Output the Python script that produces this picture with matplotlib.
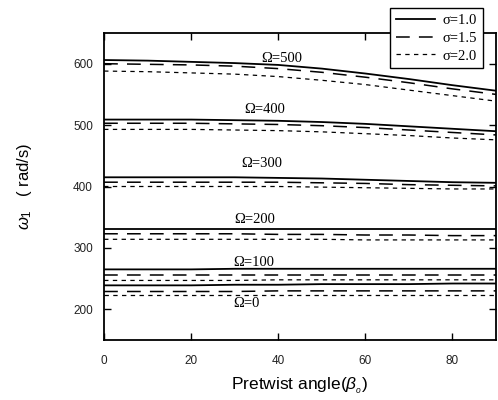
import matplotlib
matplotlib.use("Agg")
from matplotlib import pyplot as plt

plt.rcParams['mathtext.fontset'] = 'custom'
plt.rcParams['mathtext.rm'] = 'Liberation Sans'
plt.rcParams['mathtext.it'] = 'Liberation Sans:italic'

# pretwist angle (deg)
beta = [0, 10, 20, 30, 40, 50, 60, 70, 80, 90]
omegas = [500, 400, 300, 200, 100, 0]
sigma_labels = ["σ=1.0", "σ=1.5", "σ=2.0"]

# first natural frequency (rad/s), one row per Omega
sigma10 = [
    [606, 605, 603, 601, 598, 592, 584, 575, 565, 556],
    [509, 509, 509, 508, 507, 505, 502, 498, 494, 490],
    [415, 415, 415, 415, 414, 413, 411, 409, 407, 406],
    [330, 330, 330, 330, 330, 330, 330, 330, 330, 330],
    [265, 265, 265, 266, 266, 266, 266, 266, 266, 266],
    [239, 239, 239, 240, 240, 241, 241, 241, 242, 242],
]
sigma15 = [
    [600, 599, 598, 596, 592, 586, 578, 569, 559, 550],
    [503, 503, 503, 502, 501, 499, 496, 492, 488, 484],
    [407, 407, 407, 407, 407, 406, 405, 403, 402, 401],
    [323, 323, 323, 323, 322, 322, 321, 321, 320, 320],
    [256, 256, 256, 256, 256, 256, 256, 256, 256, 256],
    [229, 229, 229, 229, 230, 230, 230, 230, 230, 230],
]
sigma20 = [
    [588, 587, 585, 583, 579, 573, 566, 557, 548, 539],
    [493, 493, 493, 492, 491, 489, 486, 483, 479, 476],
    [400, 400, 400, 400, 400, 399, 398, 397, 396, 396],
    [314, 314, 314, 314, 314, 314, 313, 313, 313, 313],
    [247, 247, 247, 247, 248, 248, 248, 248, 248, 248],
    [224, 224, 224, 224, 224, 224, 224, 224, 224, 224],
]

# label positions for each Omega curve group
label_x = [40.8, 36.9, 36.2, 34.6, 34.4, 32.8]
label_y = [608, 525, 438, 347, 276, 210]

fig = plt.figure(figsize=(4.98, 4.0), dpi=100)
ax = fig.add_axes([0.209, 0.15, 0.787, 0.7675])

for i in range(len(omegas)):
    l1, = ax.plot(beta, sigma10[i], color="black", lw=1.3, ls="-")
    l2, = ax.plot(beta, sigma15[i], color="black", lw=1.1, dashes=(9, 6))
    l3, = ax.plot(beta, sigma20[i], color="black", lw=0.9, dashes=(3.5, 3.5))
    ax.text(label_x[i], label_y[i], "Ω=%d" % omegas[i], family="Liberation Serif",
            fontsize=10.5, ha="center", va="center")

ax.set_xlim(0, 90)
ax.set_ylim(150, 650)
ax.set_xticks([0, 20, 40, 60, 80])
ax.set_yticks([200, 300, 400, 500, 600])
ax.tick_params(direction="in", top=True, right=True, length=5, width=1,
               labelsize=8.5, labelcolor="#222222")
for lbl in ax.get_xticklabels() + ax.get_yticklabels():
    lbl.set_family("Liberation Sans")
ax.tick_params(axis="x", pad=11)
ax.tick_params(axis="y", pad=8)
for sp in ax.spines.values():
    sp.set_linewidth(1.3)

ax.set_xlabel(r"Pretwist angle($\beta_{_o}$)", family="Liberation Sans",
              fontsize=12.5, labelpad=6)
ax.set_ylabel(r"$\omega_1$   ( rad/s)", family="Liberation Sans",
              fontsize=12, labelpad=28)

leg = fig.legend([l1, l2, l3], sigma_labels, loc="upper right",
                 bbox_to_anchor=(490 / 498, 1 - 1 / 400),
                 prop={"family": "Liberation Serif", "size": 10.5},
                 handlelength=2.7, markerfirst=True, fancybox=False,
                 framealpha=1, edgecolor="black", borderpad=0.4,
                 labelspacing=0.3, handletextpad=0.5)
leg.get_frame().set_linewidth(1.0)

fig.savefig("out.png", dpi=100)
